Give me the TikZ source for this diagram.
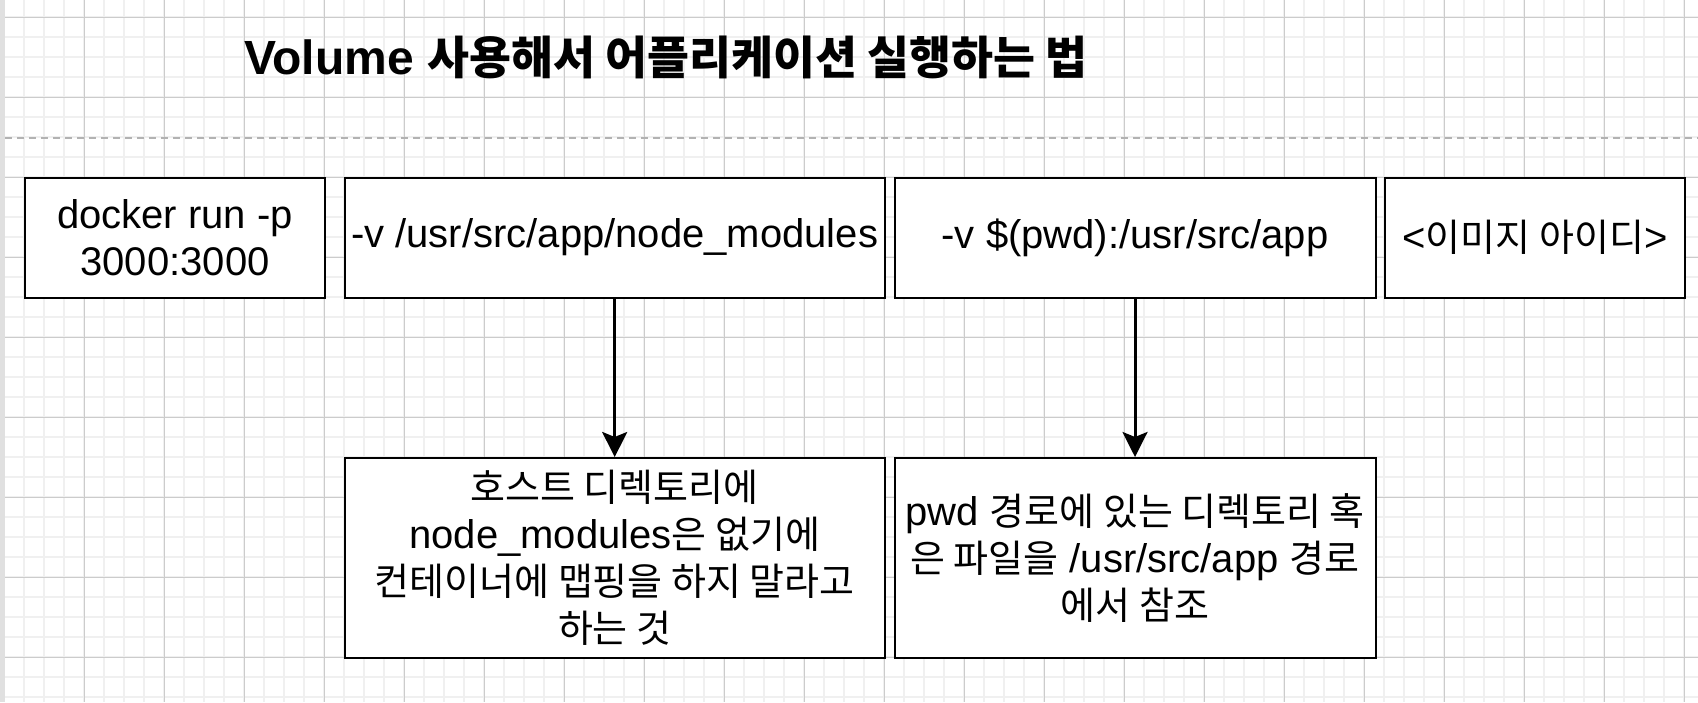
\documentclass[tikz,border=0pt]{standalone}
\usepackage{fontspec}
\setmainfont{Liberation Sans}
\newfontfamily\krfont[Scale=0.95]{Noto Sans CJK KR}
\newcommand{\kr}[1]{{\krfont #1}}
\usepackage{tikz}
\usetikzlibrary{arrows.meta, positioning}

\begin{document}
\begin{tikzpicture}[x=0.5pt, y=-0.5pt,
    minorline/.style={black!6, line width=1pt},
    majorline/.style={black!20, line width=0.5pt},
    cmdbox/.style={draw=black, fill=white, line width=1pt, inner sep=0pt,
        font=\fontsize{20}{23.5}\selectfont, align=center, minimum height=60pt},
    notebox/.style={cmdbox, minimum height=100pt},
    maparrow/.style={-{Stealth[length=12.5pt, width=12.5pt, inset=2.5pt]}, line width=1.5pt}]

    % Page and background grid
    \useasboundingbox[fill=white] (0,0) rectangle (1698,702);
    \foreach \gx in {4,24,...,1698} \draw[minorline] (\gx,0) -- (\gx,702);
    \foreach \gy in {17,37,...,702} \draw[minorline] (0,\gy) -- (1698,\gy);
    \foreach \gx in {4,84,...,1698} \draw[majorline] (\gx,0) -- (\gx,702);
    \foreach \gy in {17,97,...,702} \draw[majorline] (0,\gy) -- (1698,\gy);
    \fill[black!12] (0,0) rectangle (5,702);

    % Title
    \node[font=\fontsize{24}{28}\selectfont\bfseries, anchor=base, inner sep=0pt] (title)
        at (666,74) {Volume \kr{사용해서 어플리케이션 실행하는 법}};

    % Dashed separator
    \coordinate (sepL) at (5,137.5);
    \coordinate (sepR) at (1698,137.5);
    \draw[black!30, line width=1pt, dash pattern=on 3.6pt off 2.4pt] (sepL) -- (sepR);

    % Command parts
    \node[cmdbox, minimum width=150pt] (dockerrun) at (175,237.5) {docker run -p\\3000:3000};
    \node[cmdbox, minimum width=270pt] (volnm) at (614.7,237.5) {-v /usr/src/app/node\_modules};
    \node[cmdbox, minimum width=240.5pt] (volpwd) at (1135,237.5) {-v \$(pwd):/usr/src/app};
    \node[cmdbox, minimum width=150pt] (imageid) at (1535,237.5) {<\kr{이미지 아이디}>};

    % Explanations
    \node[notebox, minimum width=270pt] (nmnote) at (614.7,558)
        {\kr{호스트 디렉토리에}\\node\_modules\kr{은 없기에}\\\kr{컨테이너에 맵핑을 하지 말라고}\\\kr{하는 것}};
    \node[notebox, minimum width=240.5pt] (pwdnote) at (1135,558)
        {pwd \kr{경로에 있는 디렉토리 혹}\\\kr{은 파일을} /usr/src/app \kr{경로}\\\kr{에서 참조}};

    % Arrows
    \draw[maparrow] (volnm) -- (nmnote);
    \draw[maparrow] (volpwd) -- (pwdnote);

\end{tikzpicture}
\end{document}
